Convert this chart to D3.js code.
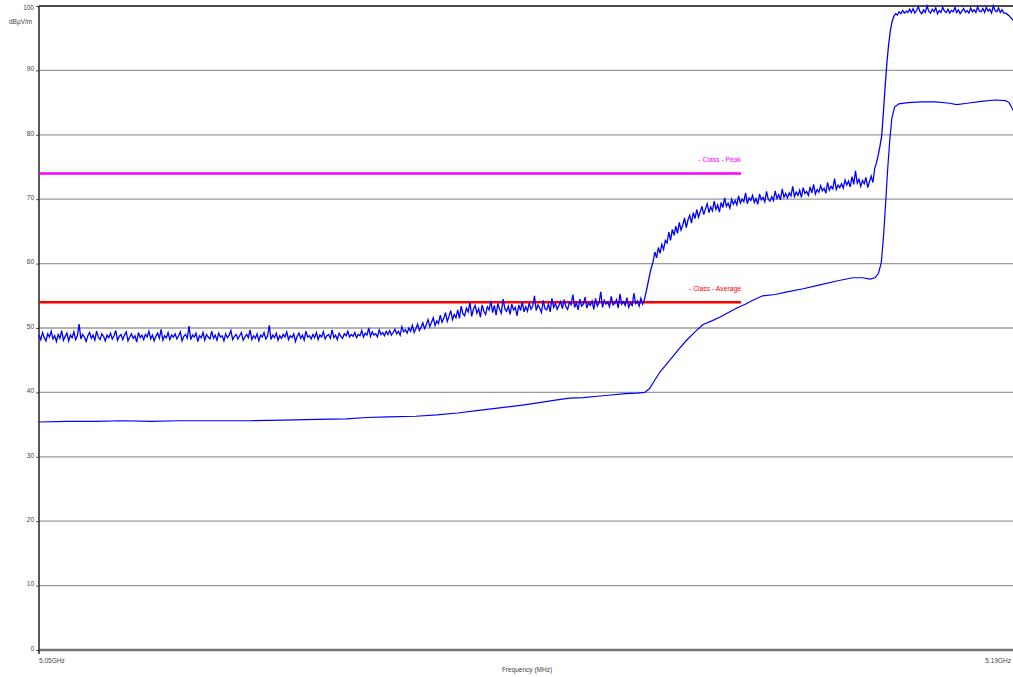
<!DOCTYPE html>
<html><head><meta charset="utf-8">
<script src="https://cdn.jsdelivr.net/npm/d3@7"></script>
<style>html,body{margin:0;padding:0;background:#fff;overflow:hidden}</style>
</head><body>
<svg id="chart" width="1013" height="677"></svg>
<script>
// ---- data ----
const freqStartMHz = 5050, freqEndMHz = 5190, peakStepMHz = 0.25;
const yTicks = [0,10,20,30,40,50,60,70,80,90,100];
const xTickLabels = ["5.05GHz","5.19GHz"];
const yAxisTitle = "dBµV/m";
const xAxisTitle = "Frequency (MHz)";
const limitNames = ["- Class  - Peak","- Class  - Average"];
const limitLevels = [74, 54];
const limitStartMHz = [5050, 5050];
const limitEndMHz = [5150.6, 5150.6];
// peak trace, one value every 0.25 MHz from 5050 MHz
const peakLevels = [
48.9,48.2,49.3,48.5,48.0,49.1,48.6,49.5,48.3,48.8,47.9,49.0,48.4,49.6,48.1,48.7,49.2,48.0,48.9,48.5,
49.4,48.2,48.8,50.6,48.3,49.0,48.6,47.9,48.8,49.3,48.4,48.9,48.1,49.5,48.6,48.2,49.1,48.7,48.0,48.9,
48.5,49.2,48.3,48.8,49.6,48.1,48.7,49.0,48.2,48.9,49.4,48.0,48.6,49.1,48.4,48.8,47.8,49.3,48.5,48.9,
48.2,49.0,48.6,49.5,48.3,48.9,48.0,48.7,49.2,48.4,49.8,48.1,48.8,48.5,49.3,48.2,48.9,48.6,49.1,48.3,
48.8,49.4,48.0,48.7,49.0,48.4,50.3,48.2,48.9,48.6,49.2,47.9,48.8,48.5,49.3,48.1,49.0,48.6,48.3,49.5,
48.4,48.9,48.1,49.2,48.6,48.8,48.0,49.1,48.5,48.9,49.6,48.2,48.7,49.0,48.3,48.8,49.3,48.1,48.6,49.0,
48.5,49.7,48.2,48.8,48.4,49.1,48.0,48.9,48.6,49.3,48.3,48.7,50.4,48.2,48.9,48.5,49.2,48.1,48.8,48.4,
49.0,48.6,49.4,48.2,48.8,48.5,49.1,47.9,48.7,49.2,48.4,48.9,48.1,49.5,48.6,48.8,48.3,49.0,48.5,49.3,
48.2,48.9,48.6,49.4,48.3,48.8,49.0,48.4,49.7,48.5,48.9,48.2,49.2,48.7,48.4,49.1,48.8,49.5,48.6,49.0,
48.7,49.3,48.5,49.0,48.8,49.6,48.6,49.2,48.9,50.0,48.7,49.4,48.9,49.1,48.6,49.7,49.0,49.3,48.8,49.5,
49.0,49.6,48.9,49.3,49.8,49.1,49.5,48.9,50.2,49.4,49.7,49.2,50.0,49.5,50.4,49.3,49.9,50.6,49.6,50.1,
50.8,49.9,50.5,51.3,50.2,50.9,51.6,50.4,51.1,50.7,52.0,50.9,51.5,52.4,51.0,51.8,52.7,51.3,52.1,51.6,
52.8,51.5,53.4,52.2,51.9,53.1,52.5,54.0,51.8,52.9,53.5,52.3,53.0,51.7,53.6,52.6,52.1,53.3,52.8,54.2,
52.4,53.5,52.0,53.8,52.9,52.3,54.5,53.0,52.6,53.4,52.1,53.7,52.8,53.2,51.9,53.6,52.7,54.1,52.5,53.3,
52.6,53.9,52.9,53.4,55.0,52.7,53.6,53.1,52.4,54.3,53.0,52.8,53.7,52.5,54.6,53.2,53.8,52.9,53.5,54.1,
53.0,54.4,53.3,52.9,54.0,53.6,55.2,53.2,53.9,52.8,54.5,53.4,53.7,54.8,53.1,53.9,53.5,54.2,52.9,54.6,
53.4,53.9,55.6,53.2,54.3,53.7,54.0,53.3,54.9,53.6,53.8,54.4,53.1,55.3,53.7,54.1,53.5,54.7,53.2,53.9,
53.5,55.4,53.8,54.2,53.4,54.6,53.7,54.4,55.6,56.9,58.2,59.4,60.3,61.8,60.9,62.5,61.6,63.0,62.2,63.6,
63.2,64.9,63.6,65.3,64.4,65.8,64.7,66.4,65.2,66.0,67.1,65.6,66.8,67.5,66.3,67.9,67.0,68.4,67.2,68.0,
68.9,67.6,68.5,69.3,67.9,68.8,68.2,69.7,68.4,69.1,68.0,69.5,68.7,70.2,68.9,69.4,68.6,70.0,69.2,69.8,
69.1,70.5,69.4,70.0,69.6,71.0,69.3,70.2,69.8,70.6,69.5,70.1,69.2,70.8,69.9,70.3,69.6,71.2,70.0,69.7,
70.4,69.8,71.3,70.1,70.7,69.9,71.6,70.3,70.9,70.2,71.0,70.5,72.0,70.4,71.1,70.6,71.4,70.3,71.8,70.9,
71.2,70.6,71.9,71.0,72.3,70.8,71.5,71.1,72.1,71.3,71.7,70.9,72.6,71.4,72.0,71.6,73.2,71.5,72.2,71.8,
72.4,71.7,73.0,72.2,72.8,71.9,73.5,72.3,74.4,72.5,73.1,72.0,72.9,72.4,73.4,71.8,72.7,73.6,72.6,74.8,
75.6,76.8,78.2,79.8,83.5,87.5,91.2,94.0,96.2,97.6,98.4,98.8,98.6,99.1,98.8,99.3,98.9,99.2,99.0,99.5,
99.0,99.6,98.9,99.3,99.9,99.1,98.8,99.4,99.0,100.0,99.2,98.9,99.5,99.1,99.7,98.8,99.3,99.0,99.8,99.2,
99.0,99.5,98.9,99.3,99.1,99.8,99.0,99.4,98.8,99.2,99.6,99.0,99.3,98.9,99.7,99.1,99.4,99.0,99.9,99.2,
99.1,99.6,99.0,99.8,99.2,99.5,98.9,100.0,99.3,99.1,99.7,99.0,99.4,98.9,98.9,98.7,98.5,98.2,97.9,97.6,
97.3];
// average trace (frequency MHz / level)
const avgFreq = [5050,5054,5058,5062,5066,5070,5075,5080,5085,5090,5094,5097,5100,5104,5107,5110,5113,5116,5119,5121,
5124,5126,5128,5130,5132,5134,5135.7,5136.8,5137.5,5138.0,5139.0,5140.4,5141.6,5142.8,5144.0,5145.1,5146.4,5147.6,5148.8,5150.0,
5151.2,5152.3,5153.7,5155.5,5157.2,5159.5,5161.9,5164.3,5166.6,5168.0,5169.1,5169.8,5170.3,5170.7,5171.0,5171.3,5171.6,5171.9,5172.2,5172.6,
5173.2,5174.5,5176.5,5178.5,5180.5,5181.5,5183.0,5185.0,5187.0,5188.5,5189.0,5189.5,5190.0];
const avgLevels = [35.4,35.5,35.5,35.6,35.5,35.6,35.6,35.6,35.7,35.8,35.9,36.1,36.2,36.3,36.5,36.8,37.2,37.6,38.0,38.3,
38.8,39.1,39.2,39.4,39.6,39.8,39.9,40.0,40.6,41.5,43.2,45.0,46.6,48.1,49.4,50.5,51.1,51.7,52.4,53.1,
53.7,54.3,55.0,55.2,55.6,56.1,56.7,57.3,57.8,57.8,57.6,57.8,58.5,60.2,64.0,69.0,74.5,79.0,82.5,84.3,
84.8,85.0,85.1,85.1,84.9,84.7,84.9,85.2,85.4,85.3,85.0,84.0,83.0];

// ---- drawing ----
const svg = d3.select("#chart");
const L = 39, R = 1016, T = 6, B = 650;
const x = d3.scaleLinear().domain([freqStartMHz, freqEndMHz]).range([L, R]);
const y = d3.scaleLinear().domain([0, 100]).range([B, T]);
const font = "'Liberation Sans', Arial, sans-serif";

// gridlines
svg.append("g").selectAll("line").data(yTicks.filter(v => v > 0 && v < 100)).join("line")
  .attr("x1", L).attr("x2", R).attr("y1", d => y(d)).attr("y2", d => y(d))
  .attr("stroke", "#9a9a9a").attr("stroke-width", 1.3);
// zero line
svg.append("line").attr("x1", L).attr("x2", R).attr("y1", y(0)).attr("y2", y(0))
  .attr("stroke", "#747474").attr("stroke-width", 2.5);
// top line
svg.append("line").attr("x1", L).attr("x2", R).attr("y1", y(100)).attr("y2", y(100))
  .attr("stroke", "#111").attr("stroke-width", 1.5);

// y axis via d3
const yAxis = d3.axisLeft(y).tickValues(yTicks).tickSize(3).tickPadding(2).tickFormat(d3.format("d"));
const gy = svg.append("g").attr("transform", `translate(${L},0)`).call(yAxis);
gy.select(".domain").remove();
gy.selectAll(".tick line").attr("stroke", "#555");
gy.selectAll(".tick text").attr("font-family", font).attr("font-size", 6.5).attr("fill", "#444")
  .attr("dy", d => d === 100 ? "0.6em" : "0.05em");
svg.append("line").attr("x1", L).attr("x2", L).attr("y1", T).attr("y2", B + 4)
  .attr("stroke", "#222").attr("stroke-width", 1.5);

// axis titles / x labels
svg.append("text").attr("x", 9).attr("y", 24).attr("font-family", font).attr("font-size", 6.5)
  .attr("fill", "#444").text(yAxisTitle);
svg.append("text").attr("x", x(freqStartMHz)).attr("y", 663).attr("font-family", font).attr("font-size", 6.5)
  .attr("fill", "#444").text(xTickLabels[0]);
svg.append("text").attr("x", 1011).attr("y", 663).attr("text-anchor", "end").attr("font-family", font)
  .attr("font-size", 6.5).attr("fill", "#444").text(xTickLabels[1]);
svg.append("text").attr("x", 527).attr("y", 672).attr("text-anchor", "middle").attr("font-family", font)
  .attr("font-size", 6.5).attr("fill", "#444").text(xAxisTitle);

// limit lines
const limitColors = ["#ff00ff", "#ff0000"];
limitLevels.forEach((lv, i) => {
  svg.append("line").attr("x1", x(limitStartMHz[i])).attr("x2", x(limitEndMHz[i]))
    .attr("y1", y(lv)).attr("y2", y(lv)).attr("stroke", limitColors[i]).attr("stroke-width", 2.6);
  svg.append("text").attr("x", x(limitEndMHz[i])).attr("y", y(lv) - 11).attr("text-anchor", "end")
    .attr("font-family", font).attr("font-size", 6.8).attr("fill", limitColors[i]).text(limitNames[i]);
});

// traces
const peakFreq = peakLevels.map((_, i) => freqStartMHz + i * peakStepMHz);
const line = d3.line().x(d => x(d[0])).y(d => y(d[1]));
svg.append("path").datum(peakFreq.map((f, i) => [f, peakLevels[i]]))
  .attr("d", line).attr("fill", "none").attr("stroke", "#0000ff").attr("stroke-width", 1.3);
svg.append("path").datum(avgFreq.map((f, i) => [f, avgLevels[i]]))
  .attr("d", line).attr("fill", "none").attr("stroke", "#0000ff").attr("stroke-width", 1.2);
</script>
</body></html>
